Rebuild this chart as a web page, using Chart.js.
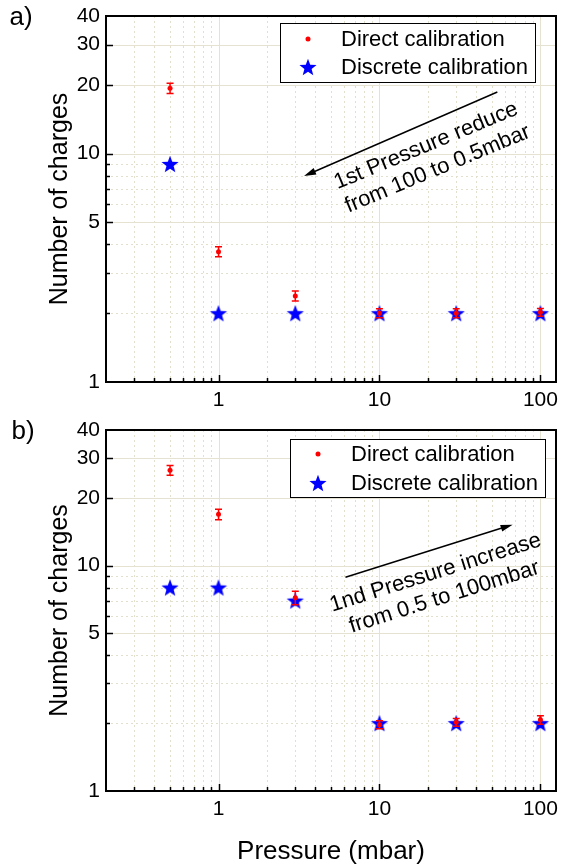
<!DOCTYPE html>
<html><head><meta charset="utf-8">
<script src="https://cdn.jsdelivr.net/npm/chart.js@4.4.0/dist/chart.umd.min.js"></script>
<style>
html,body{margin:0;padding:0;background:#fff;}
#wrap{position:relative;width:566px;height:868px;overflow:hidden;background:#fff;}
.pane{position:absolute;left:0;width:566px;}
</style></head><body>
<div id="wrap">
  <div class="pane" style="top:0;height:420px;"><canvas id="topChart"></canvas></div>
  <div class="pane" style="top:420px;height:448px;"><canvas id="botChart"></canvas></div>
</div>
<script>
// ---------- data ----------
const pressure = [0.5, 1, 3, 10, 30, 100];
const directA = [19.3, 3.72, 2.38, 2.0, 2.0, 2.02];
const directAErr = [1.0, 0.19, 0.12, 0.09, 0.09, 0.08];
const discreteA = [9, 2, 2, 2, 2, 2];
const directB = [26.5, 16.9, 7.2, 1.97, 2.02, 2.07];
const directBErr = [1.3, 0.9, 0.5, 0.08, 0.08, 0.09];
const discreteB = [8, 8, 7, 2, 2, 2];
const seriesNames = ['Direct calibration', 'Discrete calibration'];
const xTickValues = [0.2,0.3,0.4,0.5,0.6,0.7,0.8,0.9,1,2,3,4,5,6,7,8,9,10,20,30,40,50,60,70,80,90,100];
const xTickLabels = [1, 10, 100];
const yTickValues = [1,2,3,4,5,6,7,8,9,10,20,30,40];
const yTickLabels = [1, 5, 10, 20, 30, 40];
const xTitle = 'Pressure (mbar)';
const yTitle = 'Number of charges';
const panelLabels = ['a)', 'b)'];
const noteA = ['1st Pressure reduce', 'from 100 to 0.5mbar'];
const noteB = ['1nd Pressure increase', 'from 0.5 to 100mbar'];

// ---------- styling ----------
const FONT = "'Liberation Sans', Arial, Helvetica, sans-serif";
const RED = '#ff0000';
const BLUE = '#0000ff';
Chart.defaults.font.family = FONT;
Chart.defaults.color = '#000';

function makeStar(R, color) {
  const r = R * 0.42;
  const size = Math.ceil(2 * R + 2);
  const c = document.createElement('canvas');
  c.width = size; c.height = size;
  const g = c.getContext('2d');
  g.translate(size / 2, size / 2 + R * 0.095);
  g.beginPath();
  for (let i = 0; i < 10; i++) {
    const rad = i % 2 === 0 ? R : r;
    const ang = -Math.PI / 2 + i * Math.PI / 5;
    g.lineTo(rad * Math.cos(ang), rad * Math.sin(ang));
  }
  g.closePath();
  g.fillStyle = color;
  g.fill();
  return c;
}
const star = makeStar(9, BLUE);

function makeDecor(cfg) {
  return {
    id: 'decor',
    beforeDatasetsDraw(chart) {
      const {ctx, chartArea: a, scales: {x, y}} = chart;
      ctx.save();
      ctx.lineWidth = 1;
      const vline = v => { const p = Math.round(x.getPixelForValue(v)) + 0.5; ctx.beginPath(); ctx.moveTo(p, a.top); ctx.lineTo(p, a.bottom); ctx.stroke(); };
      const hline = v => { const p = Math.round(y.getPixelForValue(v)) + 0.5; ctx.beginPath(); ctx.moveTo(a.left, p); ctx.lineTo(a.right, p); ctx.stroke(); };
      ctx.strokeStyle = '#e3dfcd';
      ctx.setLineDash([2, 3]);
      xTickValues.filter(v => !xTickLabels.includes(v)).forEach(vline);
      yTickValues.filter(v => !yTickLabels.includes(v)).forEach(hline);
      ctx.setLineDash([]);
      ctx.strokeStyle = '#e6e2d2';
      xTickLabels.forEach(vline);
      yTickLabels.filter(v => v > 1 && v < 40).forEach(hline);
      ctx.restore();
    },
    afterDatasetsDraw(chart) {
      const {ctx, chartArea: a, scales: {x, y}} = chart;
      ctx.save();
      // error bars
      ctx.strokeStyle = RED; ctx.lineWidth = 1.5;
      pressure.forEach((p, i) => {
        const px = x.getPixelForValue(p);
        const v = cfg.direct[i], e = cfg.err[i];
        const y1 = y.getPixelForValue(v + e), y2 = y.getPixelForValue(v - e);
        ctx.beginPath();
        ctx.moveTo(px, y1); ctx.lineTo(px, y2);
        ctx.moveTo(px - 3.5, y1); ctx.lineTo(px + 3.5, y1);
        ctx.moveTo(px - 3.5, y2); ctx.lineTo(px + 3.5, y2);
        ctx.stroke();
      });
      // frame
      ctx.strokeStyle = '#000'; ctx.lineWidth = 2;
      ctx.strokeRect(a.left, a.top, a.right - a.left, a.bottom - a.top);
      // inward ticks
      ctx.lineWidth = 1.5;
      xTickValues.forEach(v => {
        if (v <= 0.2) return;
        const major = xTickLabels.includes(v);
        const px = Math.round(x.getPixelForValue(v)) + 0.5;
        ctx.beginPath(); ctx.moveTo(px, a.bottom); ctx.lineTo(px, a.bottom - (major ? 7 : 4)); ctx.stroke();
      });
      yTickValues.forEach(v => {
        if (v === 1 || v === 40) return;
        const major = yTickLabels.includes(v);
        const py = Math.round(y.getPixelForValue(v)) + 0.5;
        ctx.beginPath(); ctx.moveTo(a.left, py); ctx.lineTo(a.left + (major ? 7 : 4), py); ctx.stroke();
      });
      // legend box
      const L = cfg.legend;
      const bx = Math.round(a.right - L.right - L.w), by = Math.round(a.top + L.top);
      ctx.fillStyle = '#fff'; ctx.fillRect(bx, by, L.w, L.h);
      ctx.strokeStyle = '#000'; ctx.lineWidth = 1;
      ctx.strokeRect(bx + 0.5, by + 0.5, L.w, L.h);
      ctx.fillStyle = RED;
      ctx.beginPath(); ctx.arc(bx + 28, by + L.rows[0], 2.5, 0, Math.PI * 2); ctx.fill();
      ctx.drawImage(star, bx + 28 - star.width / 2, by + L.rows[1] - star.height / 2);
      ctx.fillStyle = '#000';
      ctx.font = '22px ' + FONT;
      ctx.textAlign = 'left'; ctx.textBaseline = 'middle';
      ctx.fillText(seriesNames[0], bx + 61, by + L.rows[0] + 1);
      ctx.fillText(seriesNames[1], bx + 61, by + L.rows[1] + 1);
      // annotation arrow
      const A = cfg.arrow;
      const sx = x.getPixelForValue(A.from[0]), sy = y.getPixelForValue(A.from[1]);
      const ex = x.getPixelForValue(A.to[0]), ey = y.getPixelForValue(A.to[1]);
      const ang = Math.atan2(ey - sy, ex - sx);
      const hl = 12, hw = 3.5;
      ctx.strokeStyle = '#000'; ctx.lineWidth = 1.5;
      ctx.beginPath(); ctx.moveTo(sx, sy);
      ctx.lineTo(ex - Math.cos(ang) * hl * 0.8, ey - Math.sin(ang) * hl * 0.8); ctx.stroke();
      ctx.fillStyle = '#000';
      ctx.beginPath();
      ctx.moveTo(ex, ey);
      ctx.lineTo(ex - Math.cos(ang) * hl - Math.sin(ang) * hw, ey - Math.sin(ang) * hl + Math.cos(ang) * hw);
      ctx.lineTo(ex - Math.cos(ang) * hl + Math.sin(ang) * hw, ey - Math.sin(ang) * hl - Math.cos(ang) * hw);
      ctx.closePath(); ctx.fill();
      // annotation text
      ctx.font = '22px ' + FONT;
      ctx.textAlign = 'center'; ctx.textBaseline = 'middle';
      cfg.notes.forEach(t => {
        const px = x.getPixelForValue(t.at[0]), py = y.getPixelForValue(t.at[1]);
        ctx.save(); ctx.translate(px, py); ctx.rotate(cfg.angle * Math.PI / 180);
        ctx.fillText(t.text, 0, 0); ctx.restore();
      });
      // panel label
      ctx.font = '26px ' + FONT;
      ctx.textAlign = 'center'; ctx.textBaseline = 'middle';
      ctx.fillText(cfg.label, cfg.labelPos[0], cfg.labelPos[1]);
      ctx.restore();
    }
  };
}

function makeChart(id, direct, discrete, opts) {
  return new Chart(document.getElementById(id), {
    type: 'scatter',
    data: {
      datasets: [
        { label: seriesNames[0], data: pressure.map((p, i) => ({x: p, y: direct[i]})),
          pointStyle: 'circle', pointRadius: 2.5, pointHoverRadius: 2.5, pointBorderWidth: 0,
          pointBackgroundColor: RED, pointBorderColor: RED, showLine: false, order: 0 },
        { label: seriesNames[1], data: pressure.map((p, i) => ({x: p, y: discrete[i]})),
          pointStyle: star, pointRadius: 9, pointHoverRadius: 9,
          pointBackgroundColor: BLUE, pointBorderColor: BLUE, showLine: false, order: 1 }
      ]
    },
    options: {
      responsive: true, maintainAspectRatio: false, animation: false, devicePixelRatio: 1,
      events: [],
      layout: { padding: opts.padding },
      plugins: { legend: { display: false }, tooltip: { enabled: false } },
      scales: {
        x: {
          type: 'logarithmic', min: 0.2, max: 125,
          grid: { display: false, drawTicks: false }, border: { display: false },
          afterBuildTicks: s => { s.ticks = xTickValues.map(v => ({value: v})); },
          afterFit: s => { s.height = opts.xHeight; s.paddingLeft = 0; s.paddingRight = 0; },
          ticks: { autoSkip: false, maxRotation: 0, minRotation: 0, padding: 6, color: '#000',
            font: { family: FONT, size: 21 },
            callback: v => xTickLabels.includes(v) ? String(v) : '' },
          title: { display: opts.showXTitle, text: xTitle, color: '#000',
            font: { family: FONT, size: 26 }, padding: { top: 0, bottom: 1 } }
        },
        y: {
          type: 'logarithmic', min: 1, max: 40,
          grid: { display: false, drawTicks: false }, border: { display: false },
          afterBuildTicks: s => { s.ticks = yTickValues.map(v => ({value: v})); },
          afterFit: s => { s.width = 106; s.paddingTop = 0; s.paddingBottom = 0; },
          ticks: { autoSkip: false, padding: 6, color: '#000',
            font: { family: FONT, size: 21 },
            callback: v => yTickLabels.includes(v) ? String(v) : '' },
          title: { display: true, text: yTitle, color: '#000',
            font: { family: FONT, size: 25 }, padding: { top: 45, bottom: 0 } }
        }
      }
    },
    plugins: [makeDecor(opts.decor)]
  });
}

makeChart('topChart', directA, discreteA, {
  padding: { top: 16, right: 4, left: 0, bottom: 0 },
  xHeight: 38, showXTitle: false,
  decor: {
    direct: directA, err: directAErr,
    legend: { right: 21, top: 7, w: 255, h: 59, rows: [16, 44] },
    arrow: { from: [54, 18.6], to: [3.4, 7.97] },
    angle: -22.6,
    notes: [ { text: noteA[0], at: [19.5, 10.8] }, { text: noteA[1], at: [23, 8.55] } ],
    label: panelLabels[0], labelPos: [21, 18]
  }
});

makeChart('botChart', directB, discreteB, {
  padding: { top: 4.5, right: 4, left: 0, bottom: 0 },
  xHeight: 77, showXTitle: true,
  decor: {
    direct: directB, err: directBErr,
    legend: { right: 11, top: 8.5, w: 255, h: 58, rows: [15, 44] },
    arrow: { from: [6.15, 8.89], to: [67.2, 15.2] },
    angle: -17.5,
    notes: [ { text: noteB[0], at: [22.3, 9.3] }, { text: noteB[1], at: [25.3, 7.25] } ],
    label: panelLabels[1], labelPos: [23, 12]
  }
});
</script>
</body></html>
